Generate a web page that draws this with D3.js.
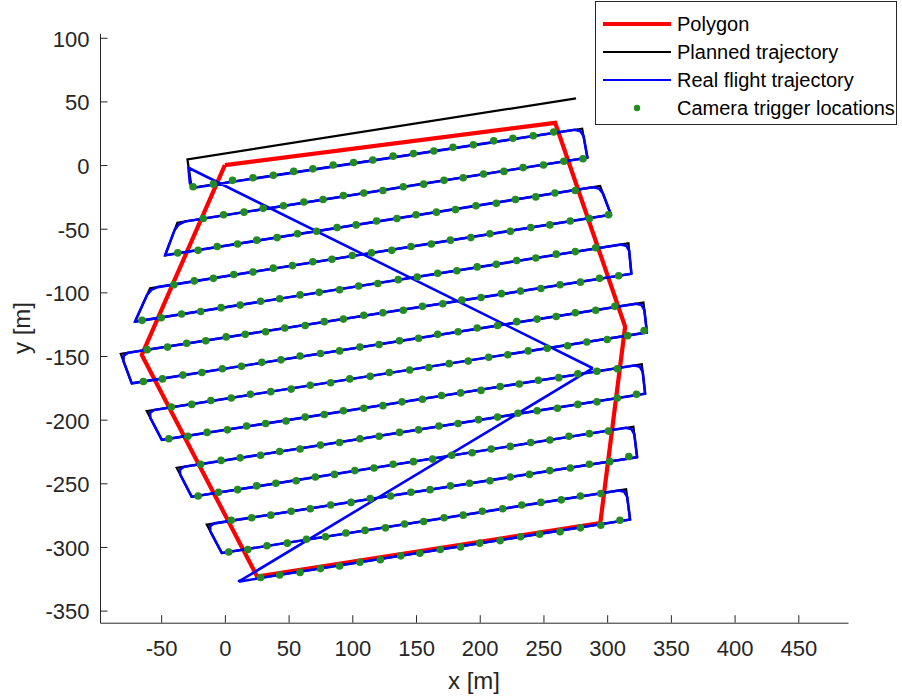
<!DOCTYPE html>
<html>
<head>
<meta charset="utf-8">
<script src="https://cdn.jsdelivr.net/npm/d3@7"></script>
<style>
  body { margin: 0; background: #fff; }
  svg { font-family: "Liberation Sans", Arial, Helvetica, sans-serif; }
  .axis path, .axis line { stroke: #262626; }
  .axis text { fill: #262626; font-size: 22px; }
</style>
</head>
<body>
<svg id="chart" width="902" height="697"></svg>
<script>
// survey polygon (x, y in metres)
var polygon = [[0,0],[259.2,33.2],[314.1,-126.9],[294.6,-281.2],[25.3,-323.2],[-65.2,-149.1],[0,0]];

// planned lawnmower trajectory
var planned = [[275.6,52.4],[-29.4,4.5],[-26,-17.8],
  [280.4,28.6],[284.5,5.8],[-37.3,-45.3],[-46.9,-70.9],
  [294.5,-16.5],[303,-39],[-58.7,-96.8],[-70.5,-123],
  [316.7,-61.5],[319,-85.4],[-81.7,-148.3],[-73.1,-171.5],
  [328.5,-108],[331.2,-131.5],[-61.3,-193.3],[-49.5,-215.9],
  [327.2,-156.5],[329.8,-179.6],[-37.8,-237.9],[-26,-260.6],
  [320.6,-205.5],[323.5,-229.5],[-14.2,-282.4],[-2.4,-304.8],
  [314.9,-254.7],[318,-278.5],[26,-324.6]];

// logged flight trajectory
var real = [[288.8,-159.6],[-28.6,-2.1],[-27.5,-14],[-25.5,-18],
  [274.5,27.7],[279,26.6],[281.5,22.7],[284.5,5.8],
  [-31.4,-44.4],[-36.2,-46.7],[-39.4,-50.9],[-46.9,-70.9],
  [288.6,-17.4],[293.4,-18.4],[296.6,-22.1],[303,-39],
  [-52.8,-95.9],[-57.7,-98.1],[-61.2,-102.3],[-70.5,-123],
  [310.8,-62.4],[315.1,-63.5],[317.3,-67.5],[319,-85.4],
  [-75.8,-147.4],[-79.4,-149.7],[-79.6,-153.9],[-73.1,-171.5],
  [322.6,-108.9],[327,-110],[329.2,-114],[331.2,-131.5],
  [-55.4,-192.4],[-58.7,-194.6],[-58.5,-198.6],[-49.5,-215.9],
  [321.3,-157.4],[325.7,-158.5],[327.9,-162.5],[329.8,-179.6],
  [-31.9,-237],[-35.3,-239.2],[-35,-243.2],[-26,-260.6],
  [314.7,-206.4],[319.1,-207.5],[321.3,-211.5],[323.5,-229.5],
  [-8.3,-281.5],[-11.6,-283.7],[-11.4,-287.7],[-2.4,-304.8],
  [309,-255.6],[313.4,-256.7],[315.7,-260.7],[318,-278.5],
  [27.6,-324.4],[12,-327.2],[11,-326.6],[14,-325.3],[288.8,-159.6]];

// camera trigger locations
var triggers = [
  [-25,-17],[-9,-15],[6,-12],[22,-10],[38,-8],[54,-5],[69,-3],[85,0],[101,2],[116,4],[132,7],[148,9],[164,11],[179,14],[195,16],[211,19],[226,21],[242,23],[258,26],
  [281,5],[266,3],[250,0],[234,-2],[219,-5],[203,-7],[187,-10],[172,-12],[156,-15],[140,-17],[124,-20],[109,-22],[93,-24],[77,-27],[62,-29],[46,-32],[30,-34],[15,-37],[-1,-39],[-17,-42],
  [-37,-69],[-21,-67],[-6,-64],[10,-62],[25,-59],[41,-57],[57,-54],[72,-52],[88,-49],[103,-47],[119,-44],[135,-42],[150,-39],[166,-37],[181,-35],[197,-32],[213,-30],[228,-27],[244,-25],[259,-22],[275,-20],
  [301,-39],[286,-42],[271,-44],[255,-47],[240,-49],[224,-52],[208,-54],[193,-57],[177,-59],[162,-62],[146,-64],[131,-67],[115,-69],[100,-71],[84,-74],[69,-76],[53,-79],[38,-81],[22,-84],[7,-86],[-9,-89],[-24,-91],[-40,-94],
  [-65,-122],[-50,-120],[-34,-117],[-19,-115],[-3,-112],[12,-110],[28,-107],[43,-105],[59,-102],[74,-100],[90,-98],[105,-95],[120,-93],[136,-90],[151,-88],[167,-85],[182,-83],[198,-80],[213,-78],[229,-75],[244,-73],[260,-70],[275,-68],[291,-65],
  [309,-87],[294,-89],[279,-92],[263,-94],[248,-97],[232,-99],[217,-101],[201,-104],[186,-106],[171,-109],[155,-111],[140,-114],[124,-116],[109,-118],[93,-121],[78,-123],[63,-126],[47,-128],[32,-131],[16,-133],[1,-135],[-15,-138],[-30,-140],[-45,-143],[-61,-145],
  [-64,-170],[-49,-168],[-33,-165],[-18,-163],[-2,-160],[13,-158],[29,-155],[44,-153],[59,-150],[75,-148],[90,-146],[106,-143],[121,-141],[137,-138],[152,-136],[167,-133],[183,-131],[198,-128],[214,-126],[229,-123],[245,-121],[260,-119],[275,-116],[291,-114],[306,-111],
  [329,-130],[316,-134],[300,-137],[284,-139],[269,-142],[253,-144],[238,-146],[222,-149],[207,-151],[191,-154],[176,-156],[160,-159],[145,-161],[129,-163],[114,-166],[98,-168],[83,-171],[67,-173],[52,-176],[36,-178],[20,-180],[5,-183],[-11,-185],[-26,-188],[-42,-190],
  [-44,-215],[-29,-213],[-14,-210],[2,-208],[17,-205],[32,-203],[48,-201],[63,-198],[78,-196],[93,-193],[109,-191],[124,-189],[139,-186],[155,-184],[170,-181],[185,-179],[201,-177],[216,-174],[231,-172],[246,-169],[262,-167],[277,-164],[292,-162],[308,-160],
  [323,-180],[308,-183],[292,-186],[277,-188],[261,-191],[245,-193],[230,-195],[214,-198],[199,-200],[183,-203],[168,-205],[152,-208],[137,-210],[121,-213],[106,-215],[90,-218],[75,-220],[59,-223],[43,-225],[28,-228],[12,-230],[-3,-232],[-19,-235],
  [-21,-260],[-5,-257],[10,-255],[25,-252],[40,-250],[56,-248],[71,-245],[86,-243],[102,-240],[117,-238],[132,-235],[148,-233],[163,-231],[178,-228],[194,-226],[209,-223],[224,-221],[240,-218],[255,-216],[270,-213],[286,-211],[301,-209],
  [317,-229],[302,-233],[286,-235],[271,-238],[255,-240],[239,-243],[224,-245],[208,-248],[192,-250],[177,-252],[161,-255],[146,-257],[130,-260],[114,-262],[99,-265],[83,-267],[67,-270],[52,-272],[36,-275],[21,-277],[5,-279],
  [3,-304],[18,-302],[33,-299],[49,-297],[64,-294],[79,-292],[95,-289],[110,-287],[126,-285],[141,-282],[156,-280],[172,-277],[187,-275],[202,-272],[218,-270],[233,-267],[248,-265],[264,-263],[279,-260],[295,-258],
  [310,-279],[295,-283],[279,-285],[263,-288],[247,-290],[232,-292],[216,-295],[200,-297],[185,-300],[169,-302],[153,-305],[138,-307],[122,-310],[106,-312],[90,-315],[75,-317],[59,-320],[43,-322],[28,-324]
];

var xTicks = [-50,0,50,100,150,200,250,300,350,400,450];
var yTicks = [-350,-300,-250,-200,-150,-100,-50,0,50,100];
var legendNames = ["Polygon", "Planned trajectory", "Real flight trajectory", "Camera trigger locations"];

var svg = d3.select("#chart");

var x = d3.scaleLinear().domain([-98, 489]).range([100, 848]);
var y = d3.scaleLinear().domain([-359.5, 103.5]).range([622.7, 33.3]);

var line = d3.line()
  .x(function(d) { return x(d[0]); })
  .y(function(d) { return y(d[1]); });

// plain hyphen minus like the original figure
var fmt = function(d) { return String(d); };

// axes (box off, ticks inward)
svg.append("g")
  .attr("class", "axis")
  .attr("transform", "translate(0,622.7)")
  .call(d3.axisBottom(x).tickValues(xTicks).tickFormat(fmt).tickSize(-7.5).tickPadding(17.5).tickSizeOuter(0))
  .call(function(g) { g.selectAll("text").attr("font-size", 22).attr("font-family", null); });

svg.append("g")
  .attr("class", "axis")
  .attr("transform", "translate(100,0)")
  .call(d3.axisLeft(y).tickValues(yTicks).tickFormat(fmt).tickSize(-7.5).tickPadding(10.5).tickSizeOuter(0))
  .call(function(g) { g.selectAll("text").attr("font-size", 22).attr("font-family", null).attr("dy", "0.38em"); });

svg.selectAll(".axis .domain").attr("stroke-width", 1);

// axis labels
svg.append("text")
  .attr("x", 474).attr("y", 689)
  .attr("text-anchor", "middle")
  .attr("font-size", 24)
  .attr("fill", "#262626")
  .text("x [m]");

svg.append("text")
  .attr("transform", "translate(30,328) rotate(-90)")
  .attr("text-anchor", "middle")
  .attr("font-size", 24)
  .attr("fill", "#262626")
  .text("y [m]");

// data
svg.append("path")
  .datum(polygon)
  .attr("d", line)
  .attr("fill", "none")
  .attr("stroke", "#ff0000")
  .attr("stroke-width", 4.2)
  .attr("stroke-linejoin", "miter");

svg.append("path")
  .datum(planned)
  .attr("d", line)
  .attr("fill", "none")
  .attr("stroke", "#000")
  .attr("stroke-width", 2.2);

svg.append("path")
  .datum(real)
  .attr("d", line)
  .attr("fill", "none")
  .attr("stroke", "#0000ff")
  .attr("stroke-width", 2.6)
  .attr("stroke-linejoin", "round");

svg.append("g")
  .selectAll("circle")
  .data(triggers)
  .enter().append("circle")
  .attr("cx", function(d) { return x(d[0]); })
  .attr("cy", function(d) { return y(d[1]); })
  .attr("r", 3.8)
  .attr("fill", "#228b22");

// legend
var legend = svg.append("g");
legend.append("rect")
  .attr("x", 595.5).attr("y", 1.5)
  .attr("width", 301).attr("height", 123)
  .attr("fill", "#fff")
  .attr("stroke", "#262626")
  .attr("stroke-width", 1);

var styles = [
  {color: "#ff0000", width: 4.2},
  {color: "#000", width: 2},
  {color: "#0000ff", width: 2},
  {color: "#228b22", dot: true}
];

var items = legend.selectAll(".item")
  .data(legendNames)
  .enter().append("g")
  .attr("class", "item")
  .attr("transform", function(d, i) { return "translate(0," + (24 + i * 28) + ")"; });

items.each(function(d, i) {
  var g = d3.select(this);
  var s = styles[i];
  if (s.dot) {
    g.append("circle").attr("cx", 637).attr("cy", 0).attr("r", 3.2).attr("fill", s.color);
  } else {
    g.append("line").attr("x1", 603).attr("x2", 671).attr("y1", 0).attr("y2", 0)
      .attr("stroke", s.color).attr("stroke-width", s.width);
  }
  g.append("text")
    .attr("x", 677).attr("y", 0).attr("dy", "0.35em")
    .attr("font-size", 20)
    .attr("fill", "#000")
    .text(d);
});
</script>
</body>
</html>
